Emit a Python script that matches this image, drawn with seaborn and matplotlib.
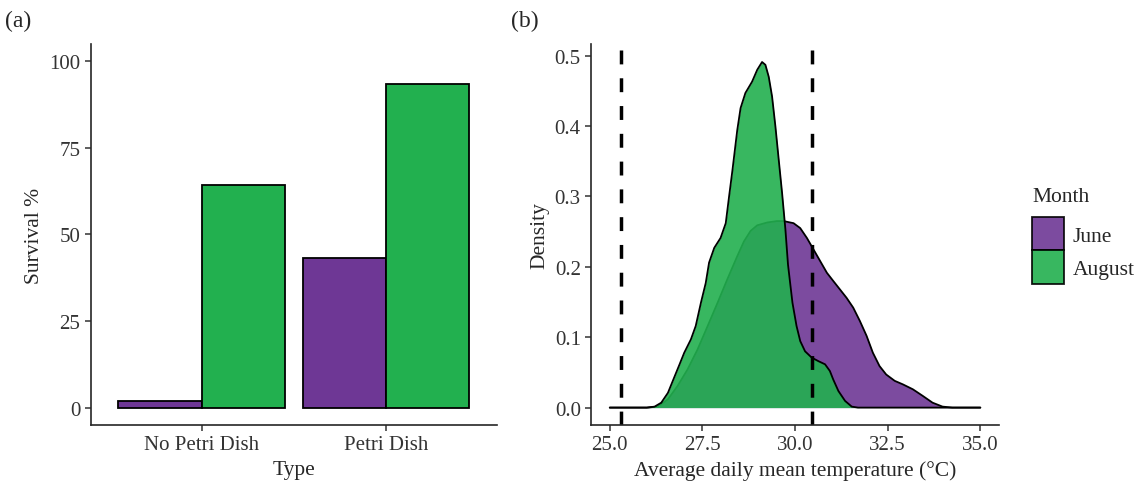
import numpy as np
import pandas as pd
import matplotlib
matplotlib.use("Agg")
import matplotlib.pyplot as plt
from matplotlib.patches import Patch
import seaborn as sns

# Panel (a) data
types = ["No Petri Dish", "Petri Dish"]
months = ["June", "August"]
survival_june = [1.9, 43.3]
survival_august = [64.4, 93.4]

# Panel (b) density curves
june_temp = [25.0, 26.0, 26.30, 26.57, 26.83, 27.10, 27.37, 27.64, 27.91, 28.17, 28.44,
             28.62, 28.80, 28.98, 29.25, 29.51, 29.69, 29.96, 30.14, 30.32, 30.50,
             30.68, 30.86, 31.03, 31.21, 31.39, 31.57, 31.75, 31.93, 32.10, 32.28,
             32.46, 32.69, 32.91, 33.18, 33.45, 33.71, 33.98, 34.25, 35.0]
june_density = [0.0, 0.0, 0.0014, 0.0118, 0.0307, 0.0543, 0.0827, 0.1157, 0.149, 0.182, 0.215,
                0.236, 0.251, 0.259, 0.263, 0.265, 0.265, 0.262, 0.255, 0.241, 0.2245,
                0.208, 0.1915, 0.180, 0.168, 0.156, 0.142, 0.123, 0.102, 0.078, 0.059,
                0.047, 0.038, 0.033, 0.026, 0.0165, 0.007, 0.0014, 0.0, 0.0]
august_temp = [25.0, 26.0, 26.21, 26.39, 26.57, 26.74, 26.88, 27.01, 27.19, 27.32, 27.46,
               27.59, 27.68, 27.82, 27.99, 28.13, 28.22, 28.31, 28.44, 28.53, 28.66,
               28.84, 28.98, 29.11, 29.20, 29.29, 29.38, 29.47, 29.56, 29.65, 29.74,
               29.81, 29.93, 30.04, 30.14, 30.27, 30.45, 30.63, 30.81, 30.94, 31.03,
               31.17, 31.35, 31.53, 31.7, 35.0]
august_density = [0.0, 0.0, 0.0014, 0.007, 0.021, 0.043, 0.061, 0.078, 0.097, 0.116, 0.149,
                  0.177, 0.206, 0.227, 0.241, 0.262, 0.300, 0.337, 0.394, 0.4255, 0.447,
                  0.463, 0.480, 0.491, 0.487, 0.470, 0.442, 0.3995, 0.352, 0.305, 0.253,
                  0.203, 0.149, 0.116, 0.0945, 0.080, 0.071, 0.066, 0.0615, 0.052, 0.040,
                  0.0236, 0.0095, 0.0014, 0.0, 0.0]
threshold_lines = [25.3, 30.45]

purple = "#6e3795"
green = "#22b04f"

sns.set_theme(style="ticks")
plt.rcParams["font.family"] = ["Liberation Serif", "DejaVu Serif"]
plt.rcParams["font.size"] = 15

fig = plt.figure(figsize=(11.37, 4.89), dpi=100)
ax1 = fig.add_axes([0.0798, 0.129, 0.3574, 0.779])
ax2 = fig.add_axes([0.520, 0.129, 0.3585, 0.779])

# (a) bar chart
df = pd.DataFrame({
    "Type": types * 2,
    "Month": [months[0]] * 2 + [months[1]] * 2,
    "Survival": survival_june + survival_august,
})
sns.barplot(data=df, x="Type", y="Survival", hue="Month", hue_order=months,
            palette=[purple, green], width=0.9, gap=0, edgecolor="black",
            linewidth=1.3, saturation=1, legend=False, ax=ax1)
ax1.set_xlim(-0.6, 1.6)
ax1.set_ylim(-5, 105)
ax1.set_yticks([0, 25, 50, 75, 100])
ax1.set_xlabel("Type", fontsize=15.5)
ax1.set_ylabel("Survival %", fontsize=15.5)

# (b) density chart, June drawn first, August on top
ax2.fill_between(june_temp, june_density, color=purple, alpha=0.9, linewidth=0, zorder=1.0)
sns.lineplot(x=june_temp, y=june_density, color="black", linewidth=1.3, ax=ax2, zorder=1.1)
ax2.fill_between(august_temp, august_density, color=green, alpha=0.9, linewidth=0, zorder=1.2)
sns.lineplot(x=august_temp, y=august_density, color="black", linewidth=1.3, ax=ax2, zorder=1.3)
for xv in threshold_lines:
    ax2.axvline(xv, color="black", linewidth=2.5, linestyle=(0, (4, 4)), zorder=2)
ax2.set_xlim(24.5, 35.5)
ax2.set_ylim(-0.0246, 0.5166)
ax2.set_xticks([25.0, 27.5, 30.0, 32.5, 35.0])
ax2.set_xticklabels(["25.0", "27.5", "30.0", "32.5", "35.0"])
ax2.set_yticks([0.0, 0.1, 0.2, 0.3, 0.4, 0.5])
ax2.set_yticklabels(["0.0", "0.1", "0.2", "0.3", "0.4", "0.5"])
ax2.set_xlabel("Average daily mean temperature (°C)", fontsize=15.5)
ax2.set_ylabel("Density", fontsize=15.5)

for ax in (ax1, ax2):
    sns.despine(ax=ax)
    ax.spines["left"].set_linewidth(1.2)
    ax.spines["bottom"].set_linewidth(1.2)
    ax.tick_params(axis="both", labelsize=15, colors="#333333", length=4, width=1.1,
                   labelcolor="#333333")

fig.text(0.004, 0.978, "(a)", fontsize=17, va="top", ha="left")
fig.text(0.449, 0.978, "(b)", fontsize=17, va="top", ha="left")

handles = [Patch(facecolor=purple, edgecolor="black", linewidth=1.3, alpha=0.9),
           Patch(facecolor=green, edgecolor="black", linewidth=1.3, alpha=0.9)]
leg = fig.legend(handles, months, title="Month", loc="upper left",
                 bbox_to_anchor=(1032 / 1137, 1 - 188 / 489), frameon=False,
                 fontsize=15.5, title_fontsize=15.5, handlelength=1.5, handleheight=2.0,
                 labelspacing=0, handletextpad=0.4, borderpad=0, borderaxespad=0,
                 alignment="left")
leg._legend_box.sep = 8

fig.savefig("out.png", dpi=100)
